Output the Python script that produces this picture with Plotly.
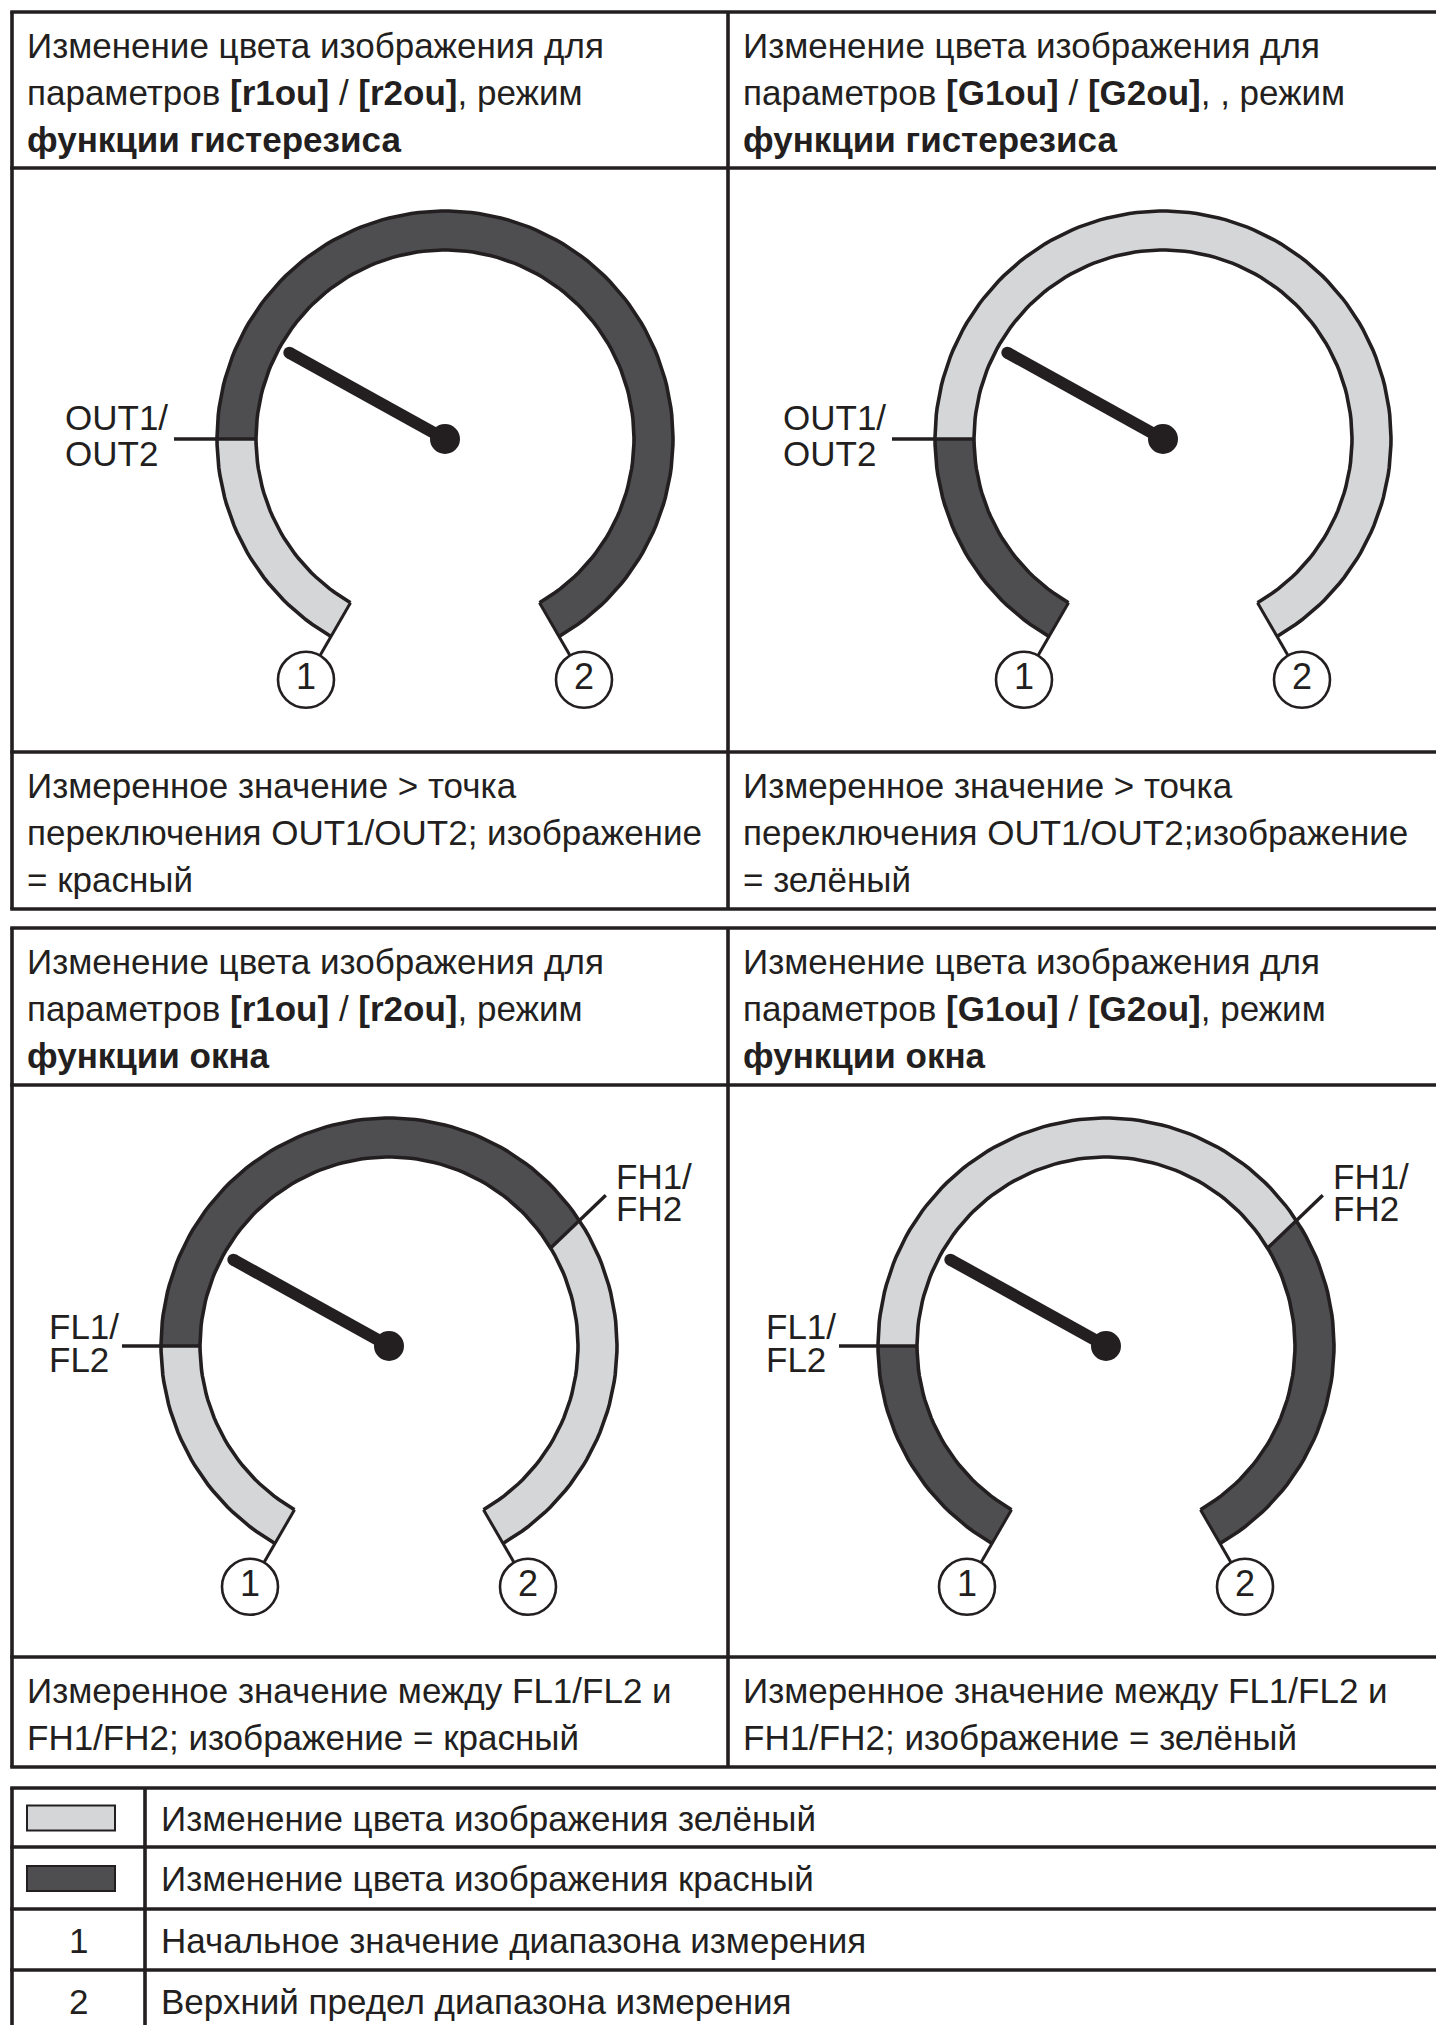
"""Gauge colour-change diagrams (hysteresis / window function) as a Plotly figure."""

import numpy as np
import plotly.graph_objects as go

# ---------------------------------------------------------------- data
HEADERS = [
    ["Изменение цвета изображения для",
     "параметров <b>[r1ou]</b> / <b>[r2ou]</b>, режим",
     "<b>функции гистерезиса</b>"],
    ["Изменение цвета изображения для",
     "параметров <b>[G1ou]</b> / <b>[G2ou]</b>, , режим",
     "<b>функции гистерезиса</b>"],
    ["Изменение цвета изображения для",
     "параметров <b>[r1ou]</b> / <b>[r2ou]</b>, режим",
     "<b>функции окна</b>"],
    ["Изменение цвета изображения для",
     "параметров <b>[G1ou]</b> / <b>[G2ou]</b>, режим",
     "<b>функции окна</b>"],
]

DESCRIPTIONS = [
    ["Измеренное значение &gt; точка",
     "переключения OUT1/OUT2; изображение",
     "= красный"],
    ["Измеренное значение &gt; точка",
     "переключения OUT1/OUT2;изображение",
     "= зелёный"],
    ["Измеренное значение между FL1/FL2 и",
     "FH1/FH2; изображение = красный"],
    ["Измеренное значение между FL1/FL2 и",
     "FH1/FH2; изображение = зелёный"],
]

# gauge scale: 0 = start of range (1), 300 = upper limit (2), degrees of sweep
BREAKS_INNER = [[0, 60, 300], [0, 60, 300], [0, 60, 208.8, 300], [0, 60, 208.8, 300]]
BREAKS_OUTER = [[0, 60, 300], [0, 60, 300], [0, 60, 206.6, 300], [0, 60, 206.6, 300]]
SEGMENT_STATES = [
    ["green", "red"],
    ["red", "green"],
    ["green", "red", "green"],
    ["red", "green", "red"],
]
NEEDLE_VALUE = [89, 89, 89, 89]

# switch point labels: (break index, label end value, line 1, line 2)
SPLIT_LABELS = [
    [(1, 60, "OUT1/", "OUT2")],
    [(1, 60, "OUT1/", "OUT2")],
    [(1, 60, "FL1/", "FL2"), (2, 205.2, "FH1/", "FH2")],
    [(1, 60, "FL1/", "FL2"), (2, 205.2, "FH1/", "FH2")],
]

LEGEND_KEYS = ["green", "red", "1", "2"]
LEGEND_TEXT = [
    "Изменение цвета изображения зелёный",
    "Изменение цвета изображения красный",
    "Начальное значение диапазона измерения",
    "Верхний предел диапазона измерения",
]

# ---------------------------------------------------------------- layout / style
W, H = 1436, 2025
FONT = "Liberation Sans, Arial, sans-serif"
FS = 35
INK = "#231f20"
FILL = {"green": "#d5d6d8", "red": "#4e4e50"}
LW = 3.6

COL_X = [12, 728]
TEXT_PAD = 14
TABLES = [  # row boundaries (px) of the two diagram tables
    [12, 168, 752, 909],
    [928, 1085, 1657, 1767],
]
LEGEND_ROWS = [1788, 1847, 1909, 1970, 2040]
LEGEND_COL = [12, 145]

GAUGE_CENTERS = [(445, 439), (1163, 439), (389, 1346), (1106, 1346)]
R_OUT, R_IN, R_NUM, R_NEEDLE = 228, 189, 278, 178
LEAD_R = {"OUT1/": 271, "FL1/": 267, "FH1/": 264}
LABEL_OFF = {"OUT1/": (-381, -9, 27), "FL1/": (-341, -7, 26), "FH1/": (226, -157, -125)}


def pt(c, r, v):
    """Gauge value v at radius r -> pixel coordinates (y downwards)."""
    th = np.radians(240.0 - np.asarray(v, dtype=float))
    return c[0] + r * np.cos(th), c[1] - r * np.sin(th)


def arc(c, r, v0, v1, n=160):
    return pt(c, r, np.linspace(v0, v1, n))


fig = go.Figure()
annotations = []
shapes = []


def line_trace(xs, ys, width=LW, color=INK):
    fig.add_trace(go.Scatter(x=list(xs), y=list(ys), mode="lines",
                             line=dict(color=color, width=width),
                             hoverinfo="skip"))


def text(x, baseline, s, size=FS, anchor="left"):
    annotations.append(dict(x=x, y=baseline - 0.345 * size, text=s, showarrow=False,
                            xanchor=anchor, yanchor="middle", xref="x", yref="y",
                            borderpad=0,
                            font=dict(family=FONT, size=size, color=INK)))


# ---------------------------------------------------------------- tables
for rows in TABLES:
    for y in rows:
        shapes.append(dict(type="line", x0=COL_X[0] - LW / 2, x1=W + 10, y0=y, y1=y))
    for x in COL_X:
        shapes.append(dict(type="line", x0=x, x1=x, y0=rows[0], y1=rows[-1]))

for y in LEGEND_ROWS:
    shapes.append(dict(type="line", x0=LEGEND_COL[0] - LW / 2, x1=W + 10, y0=y, y1=y))
for x in LEGEND_COL:
    shapes.append(dict(type="line", x0=x, x1=x, y0=LEGEND_ROWS[0], y1=LEGEND_ROWS[-1]))

for s in shapes:
    s.update(xref="x", yref="y", line=dict(color=INK, width=LW))

# header and description text
for i in range(4):
    rows = TABLES[i // 2]
    x0 = COL_X[i % 2] + TEXT_PAD
    for k, s in enumerate(HEADERS[i]):
        text(x0, rows[0] + 46 + 47 * k, s)
    for k, s in enumerate(DESCRIPTIONS[i]):
        text(x0, rows[2] + 46 + 47 * k, s)

# ---------------------------------------------------------------- gauges
for i, c in enumerate(GAUGE_CENTERS):
    bi, bo = BREAKS_INNER[i], BREAKS_OUTER[i]
    for k, state in enumerate(SEGMENT_STATES[i]):
        xo, yo = arc(c, R_OUT, bo[k], bo[k + 1])
        xi, yi = arc(c, R_IN, bi[k + 1], bi[k])
        fig.add_trace(go.Scatter(x=np.r_[xo, xi, xo[:1]], y=np.r_[yo, yi, yo[:1]],
                                 mode="lines", fill="toself", fillcolor=FILL[state],
                                 line=dict(width=0, color=FILL[state]), hoverinfo="skip"))
    # outline
    xo, yo = arc(c, R_OUT, bo[0], bo[-1])
    xi, yi = arc(c, R_IN, bi[0], bi[-1])
    line_trace(xo, yo)
    line_trace(xi, yi)
    for v in (bi[0], bi[-1]):
        xa, ya = pt(c, R_IN, v)
        xb, yb = pt(c, R_NUM, v)
        line_trace([xa, xb], [ya, yb], width=3)
    # switch points with their labels
    for k, v_end, l1, l2 in SPLIT_LABELS[i]:
        xa, ya = pt(c, R_IN, bi[k])
        xb, yb = pt(c, LEAD_R[l1], v_end)
        line_trace([xa, xb], [ya, yb], width=3.4)
        dx, b1, b2 = LABEL_OFF[l1]
        text(c[0] + dx, c[1] + b1, l1, size=35)
        text(c[0] + dx, c[1] + b2, l2, size=35)
    # needle
    xn, yn = pt(c, R_NEEDLE, NEEDLE_VALUE[i])
    fig.add_trace(go.Scatter(x=[c[0], xn], y=[c[1], yn], mode="lines+markers",
                             line=dict(color=INK, width=12),
                             marker=dict(size=[30, 12], color=INK, opacity=1,
                                         line=dict(width=0)),
                             hoverinfo="skip"))
    # numbered range markers
    nx, ny = pt(c, R_NUM, [bi[0], bi[-1]])
    fig.add_trace(go.Scatter(x=nx, y=ny, mode="markers+text", text=["1", "2"],
                             textposition="middle center",
                             textfont=dict(family=FONT, size=36, color=INK),
                             marker=dict(size=56, color="white", opacity=1,
                                         line=dict(color=INK, width=2.6)),
                             hoverinfo="skip"))

# ---------------------------------------------------------------- legend
for k, key in enumerate(LEGEND_KEYS):
    top, bottom = LEGEND_ROWS[k], min(LEGEND_ROWS[k + 1], 2031)
    mid = (top + bottom) / 2
    if key in FILL:
        shapes.append(dict(type="rect", xref="x", yref="y", x0=27, x1=115,
                           y0=mid - 12, y1=mid + 13, fillcolor=FILL[key],
                           line=dict(color=INK, width=2)))
    else:
        text((LEGEND_COL[0] + LEGEND_COL[1]) / 2, mid + 13, key, anchor="center")
    text(LEGEND_COL[1] + 15, mid + 13, LEGEND_TEXT[k])

fig.update_layout(
    width=W, height=H,
    margin=dict(l=0, r=0, t=0, b=0),
    paper_bgcolor="white", plot_bgcolor="white",
    showlegend=False, hovermode=False,
    xaxis=dict(range=[0, W], visible=False, fixedrange=True),
    yaxis=dict(range=[H, 0], visible=False, fixedrange=True),
    shapes=shapes, annotations=annotations,
)

# the page body keeps the browser's default margin otherwise
fig.write_html("out.html", config={"displayModeBar": False},
               post_script="document.body.style.margin = '0';")
